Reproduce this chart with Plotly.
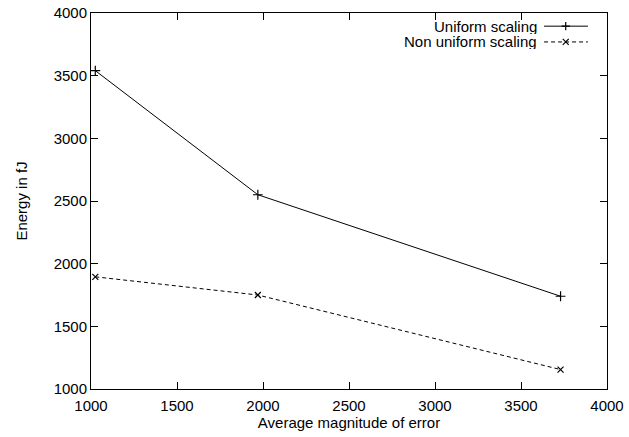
import plotly.graph_objects as go

x_err = [1025, 1970, 3730]
uniform = [3540, 2550, 1740]
non_uniform = [1895, 1750, 1155]
series_names = ["Uniform scaling", "Non uniform scaling"]
x_ticks = [1000, 1500, 2000, 2500, 3000, 3500, 4000]
y_ticks = [1000, 1500, 2000, 2500, 3000, 3500, 4000]

FONT = "Liberation Sans, Arial, Helvetica, sans-serif"
FS = 15

fig = go.Figure()
fig.add_trace(go.Scatter(
    x=x_err, y=uniform, mode="lines+markers", name=series_names[0],
    line=dict(color="black", width=1),
    marker=dict(symbol="cross-thin", size=7, line=dict(color="black", width=1.2)),
    showlegend=False,
))
fig.add_trace(go.Scatter(
    x=x_err, y=non_uniform, mode="lines+markers", name=series_names[1],
    line=dict(color="black", width=1, dash="4px,3px"),
    marker=dict(symbol="x-thin", size=6, line=dict(color="black", width=1.2)),
    showlegend=False,
))

# custom legend (gnuplot style: text right-aligned, key sample on the right)
leg_rows = [0.965, 0.923]
leg_dash = ["solid", "4px,3px"]
leg_sym = ["cross-thin", "x-thin"]
for i, name in enumerate(series_names):
    fig.add_annotation(x=0.862, y=leg_rows[i], xref="paper", yref="paper",
                       text=name, showarrow=False, xanchor="right", yanchor="middle",
                       xshift=2, height=15, valign="middle", borderpad=0,
                       font=dict(family=FONT, size=FS, color="black"))
    fig.add_shape(type="line", xref="paper", yref="paper",
                  x0=0.878, x1=0.963, y0=leg_rows[i], y1=leg_rows[i],
                  line=dict(color="black", width=1, dash=leg_dash[i]))
    fig.add_trace(go.Scatter(
        x=[0.920], y=[leg_rows[i]], xaxis="x2", yaxis="y2", mode="markers",
        marker=dict(symbol=leg_sym[i], size=6, line=dict(color="black", width=1.2)),
        showlegend=False, hoverinfo="skip"))

axis_common = dict(
    showgrid=False, zeroline=False, showline=True, linecolor="black", linewidth=1,
    mirror="ticks", ticks="inside", ticklen=7, tickcolor="black", tickwidth=1,
    tickfont=dict(family=FONT, size=FS, color="black"), automargin=False,
)

fig.update_layout(
    width=629, height=437,
    margin=dict(l=91, r=22, t=13, b=48),
    paper_bgcolor="white", plot_bgcolor="white",
    font=dict(family=FONT, size=FS, color="black"),
    xaxis=dict(range=[1000, 4000], tickvals=x_ticks, ticklabelstandoff=3,
               title=dict(text="Average magnitude of error", standoff=4,
                          font=dict(family=FONT, size=FS)), **axis_common),
    yaxis=dict(range=[1000, 4000], tickvals=y_ticks, ticklabelstandoff=0,
               title=dict(text="Energy in fJ", standoff=22,
                          font=dict(family=FONT, size=FS)), **axis_common),
    xaxis2=dict(range=[0, 1], overlaying="x", visible=False, fixedrange=True),
    yaxis2=dict(range=[0, 1], overlaying="y", visible=False, fixedrange=True),
    showlegend=False,
)

fig.write_html("out.html", config={"displayModeBar": False},
               post_script="document.body.style.margin='0';")
